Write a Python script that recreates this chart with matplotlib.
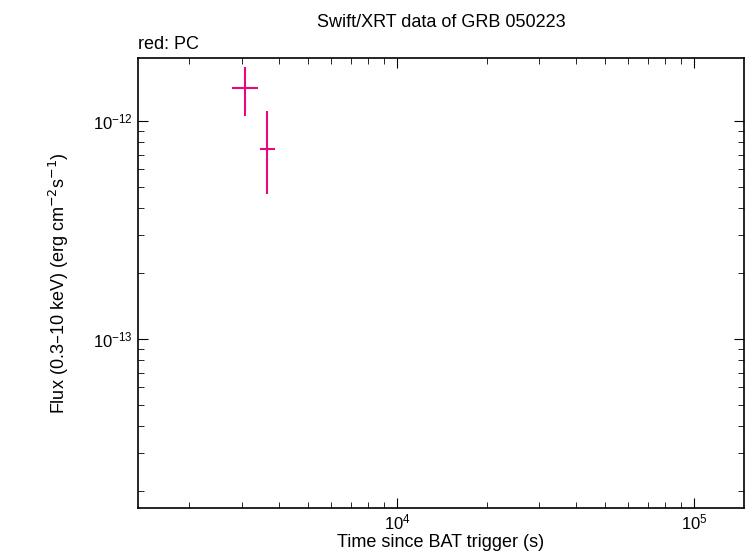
import matplotlib
matplotlib.use("Agg")
import matplotlib.pyplot as plt
import numpy as np

plt.rcParams["font.family"] = ["Liberation Sans", "DejaVu Sans"]

# PC mode data points
time = np.array([3076.0, 3650.0])
time_lo = np.array([2780.0, 3460.0])
time_hi = np.array([3404.0, 3880.0])
flux = np.array([1.415e-12, 7.44e-13])
flux_lo = np.array([1.05e-12, 4.62e-13])
flux_hi = np.array([1.77e-12, 1.11e-12])

fig = plt.figure(figsize=(7.46, 5.58), dpi=100)
ax = fig.add_axes([138 / 746, 50 / 558, 606 / 746, 450 / 558])

ax.errorbar(time, flux,
            xerr=[time - time_lo, time_hi - time],
            yerr=[flux - flux_lo, flux_hi - flux],
            fmt="none", ecolor="#e8087e", elinewidth=1.5, capsize=0)

ax.set_xscale("log")
ax.set_yscale("log")
ax.set_xlim(1343, 147000)
ax.set_ylim(1.68e-14, 1.945e-12)

ax.tick_params(which="both", direction="in", top=True, right=True, labelsize=12)
ax.tick_params(which="major", length=7)
ax.tick_params(which="minor", length=4)
ax.xaxis.set_minor_formatter(matplotlib.ticker.NullFormatter())
ax.yaxis.set_minor_formatter(matplotlib.ticker.NullFormatter())
for s in ax.spines.values():
    s.set_linewidth(1.2)

ax.set_xlabel("Time since BAT trigger (s)", fontsize=13, labelpad=1)
ax.set_ylabel("Flux (0.3\u201310 keV) (erg cm$^{-2}$s$^{-1}$)", fontsize=13, labelpad=16)
ax.set_title("Swift/XRT data of GRB 050223", fontsize=13, pad=22)
ax.text(0.0, 1.012, "red: PC", transform=ax.transAxes, fontsize=13, ha="left", va="bottom")

fig.savefig("out.png", dpi=100)
